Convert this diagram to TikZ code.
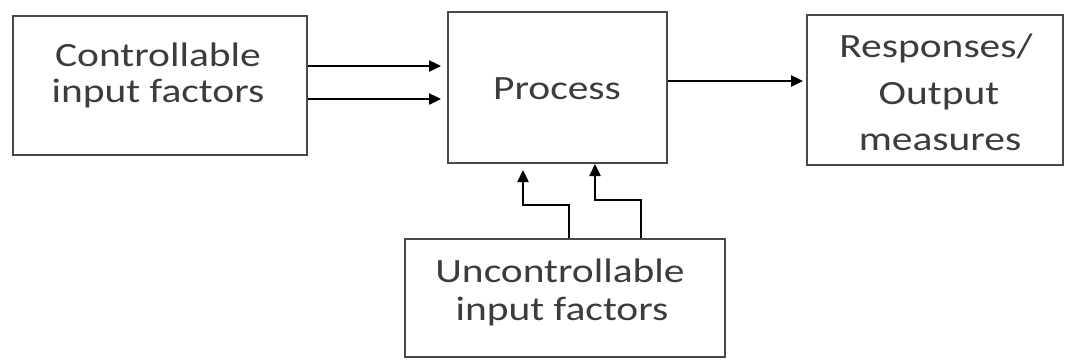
\documentclass[tikz,border=0pt]{standalone}
\usepackage{fontspec}
\setmainfont{Carlito}
\usetikzlibrary{arrows.meta}
\newcommand{\sx}[1]{\scalebox{1.22}[1]{#1}}
\definecolor{boxgray}{HTML}{4A4A4A}
\definecolor{txtgray}{HTML}{3C3C3C}
\begin{document}
\begin{tikzpicture}[x=1pt,y=-1pt,
  box/.style={draw=boxgray, line width=2pt, rectangle, inner sep=0pt},
  lbl/.style={anchor=base, inner sep=0pt, text=txtgray, font=\fontsize{34pt}{36pt}\selectfont},
  arr/.style={draw=black, line width=2.4pt, -{Triangle[length=12pt,width=11pt]}}]
\useasboundingbox (0,0) rectangle (1067,360);
\fill[white] (0,0) rectangle (1067,360);
% boxes
\node[box, minimum width=294pt, minimum height=139pt] (ctrl) at (160,85.5) {};
\node[box, minimum width=219pt, minimum height=151pt] (proc) at (557.5,87.5) {};
\node[box, minimum width=256pt, minimum height=150pt] (resp) at (935,90) {};
\node[box, minimum width=320pt, minimum height=118pt] (unc) at (565,298) {};
% labels
\node[lbl] (ctrl1) at (158,66) {\sx{Controllable}};
\node[lbl] (ctrl2) at (158,102) {\sx{input factors}};
\node[lbl] (proct) at (557,99) {\sx{Process}};
\node[lbl] (resp1) at (936,57) {\sx{Responses/}};
\node[lbl] (resp2) at (939,104) {\sx{Output}};
\node[lbl] (resp3) at (940,150) {\sx{measures}};
\node[lbl] (unc1) at (560,282) {\sx{Uncontrollable}};
\node[lbl] (unc2) at (562,320) {\sx{input factors}};
% connectors
\coordinate (t1) at (441,66);
\coordinate (t2) at (441,99);
\draw[arr] (ctrl.east |- t1) -- (t1);
\draw[arr] (ctrl.east |- t2) -- (t2);
\draw[arr] (proc.east |- 0,81) -- ([xshift=-3pt]resp.west |- 0,81);
\coordinate (u1) at (569,205);
\coordinate (u2) at (641,200);
\draw[arr] (unc.north -| u1) -- (u1) -- (523,205) -- (523,170);
\draw[arr] (unc.north -| u2) -- (u2) -- (595,200) -- (proc.south -| 595,0);
\end{tikzpicture}
\end{document}
